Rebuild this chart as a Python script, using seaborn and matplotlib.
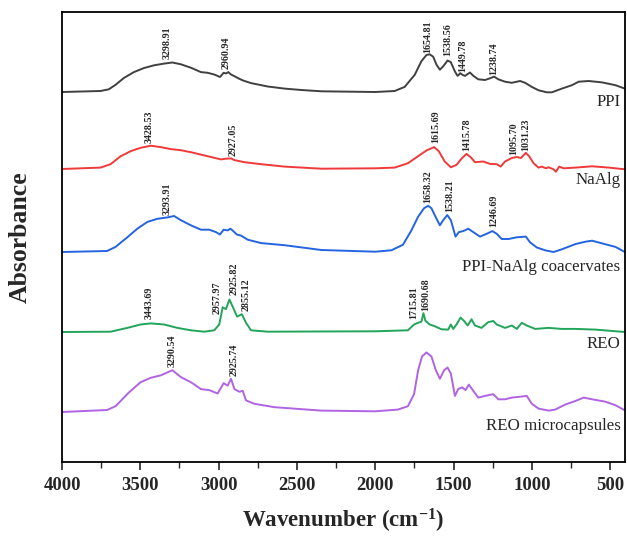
import matplotlib
matplotlib.use("Agg")
import matplotlib.pyplot as plt
import numpy as np
import pandas as pd
import seaborn as sns
from matplotlib.ticker import MultipleLocator

# FTIR spectra (wavenumber, height above each trace's baseline)
ppi_wn = [4000, 3754, 3701, 3658, 3605, 3541, 3476, 3412, 3348, 3295, 3241, 3177, 3113, 3070,
          3028, 2991, 2968, 2953, 2938, 2921, 2899, 2874, 2846, 2793, 2686, 2579, 2472, 2344,
          2000, 1876, 1812, 1748, 1705, 1673, 1652, 1630, 1609, 1587, 1566, 1538, 1517, 1491,
          1474, 1457, 1442, 1427, 1395, 1373, 1342, 1299, 1267, 1241, 1214, 1171, 1128, 1075,
          1043, 1000, 957, 904, 872, 808, 744, 701, 637, 551, 466, 406]
ppi_abs = [0, 1, 2.7, 7.2, 14, 19.9, 24, 26.7, 28.4, 29.5, 27.7, 24.3, 19.9, 19.2,
           17.5, 15, 19.2, 18.5, 19.9, 17.5, 15.8, 13.7, 11.6, 8.9, 5.5, 3.4, 2, 0.7,
           0, 1, 5.1, 17.1, 30.8, 37, 37.7, 35.3, 27.4, 22.3, 25.7, 31.5, 29.8, 20.5,
           16.1, 18.8, 17.1, 16.1, 19.5, 16.1, 12.7, 12, 13.7, 15.4, 12.7, 10.3, 9.2, 11,
           9.2, 5.1, 1.7, -0.3, -0.3, 3.4, 6.8, 10.3, 11, 9.6, 6.8, 3.4]

naalg_wn = [4000, 3754, 3690, 3626, 3562, 3498, 3434, 3370, 3305, 3241, 3177, 3113, 3049, 2985,
            2953, 2921, 2899, 2835, 2728, 2579, 2344, 2000, 1876, 1791, 1727, 1673, 1624, 1594,
            1556, 1517, 1481, 1445, 1417, 1389, 1363, 1310, 1267, 1224, 1199, 1171, 1128, 1096,
            1070, 1038, 1017, 989, 957, 936, 910, 893, 861, 846, 825, 797, 722, 615, 508, 406]
naalg_abs = [0, 1.4, 4.8, 12.7, 17.8, 21.2, 23.3, 21.9, 19.9, 18.8, 16.8, 14.4, 12, 9.6,
             10.3, 10.6, 8.9, 6.8, 4.8, 2.4, 0.3, 0.7, 1.4, 5.8, 12.7, 18.5, 21.9, 17.8,
             7.5, 1.7, 4.1, 11, 15.1, 11.6, 6.8, 7.5, 5.1, 4.8, 2.4, 7.5, 11, 12,
             11, 16.1, 12.7, 5.8, 1.4, 2.4, 0.7, 1.7, -0.3, -2.7, 2.4, 0.7, 1.4, 2.7, 1.4, -0.3]

coac_wn = [4000, 3712, 3658, 3583, 3519, 3455, 3391, 3327, 3284, 3241, 3177, 3113, 3060, 3017,
           2991, 2968, 2942, 2925, 2906, 2884, 2857, 2814, 2728, 2579, 2344, 2000, 1897, 1823,
           1769, 1726, 1688, 1662, 1641, 1615, 1587, 1566, 1540, 1517, 1487, 1466, 1438, 1406,
           1374, 1331, 1288, 1252, 1224, 1192, 1149, 1096, 1038, 1011, 968, 915, 861, 808,
           722, 658, 615, 551, 466, 406]
coac_abs = [0, 1, 5.1, 14.7, 23.3, 30.1, 33.2, 34.6, 36, 31.8, 26.7, 22.3, 22.3, 19.9,
            17.5, 22.3, 21.6, 23.3, 20.9, 17.5, 16.4, 12.3, 8.9, 6.8, 2, 0.3, 1.7, 7.2,
            21.6, 35.3, 43.8, 46.2, 43.8, 35.3, 26.7, 31.8, 37, 31.8, 15.4, 19.9, 20.9, 23.3,
            19.9, 15.4, 18.2, 20.9, 18.2, 13, 13, 14.7, 15.4, 9.6, 4.5, 1.7, 0, 2.7,
            7.9, 10.3, 11.3, 8.6, 5.1, 0]

reo_wn = [4000, 3690, 3583, 3498, 3434, 3348, 3263, 3177, 3092, 3028, 2996, 2974, 2953, 2931,
          2910, 2882, 2852, 2825, 2793, 2686, 2393, 2000, 1791, 1752, 1726, 1705, 1692, 1679,
          1652, 1620, 1577, 1534, 1517, 1502, 1481, 1455, 1432, 1410, 1385, 1363, 1321, 1278,
          1246, 1224, 1171, 1128, 1096, 1064, 1032, 979, 893, 808, 722, 594, 406]
reo_abs = [0, 0.3, 4.1, 7.5, 8.6, 7.5, 4.1, 1.7, 0.3, 1.7, 7.5, 24.7, 22.9, 32.5,
           25.3, 15.4, 17.8, 9.2, 1.7, 0.3, 0.5, 0.7, 1.7, 7.5, 9.2, 10.3, 18.8, 11,
           7.5, 5.8, 2.7, 2.4, 7.5, 3.1, 7.5, 14.4, 11, 6.5, 12.7, 6.5, 4.1, 9.9,
           11, 7.5, 4.1, 6.5, 3.1, 9.2, 6.5, 3.1, 4.1, 3.1, 3.1, 2.4, 0]

micro_wn = [4000, 3712, 3658, 3573, 3498, 3434, 3370, 3295, 3241, 3177, 3113, 3060, 3006, 2968,
            2942, 2921, 2899, 2867, 2846, 2825, 2771, 2643, 2344, 2000, 1855, 1791, 1752, 1726,
            1701, 1673, 1641, 1613, 1587, 1560, 1538, 1517, 1491, 1470, 1445, 1423, 1402, 1374,
            1342, 1299, 1246, 1214, 1171, 1128, 1086, 1032, 1000, 957, 893, 851, 786, 722,
            669, 615, 530, 466, 406]
micro_abs = [0, 2, 5.8, 19.5, 29.8, 34.2, 36.6, 41.8, 34.9, 29.8, 22.9, 21.9, 18.5, 28.8,
             26.4, 33.2, 22.9, 20.2, 21.2, 11.6, 8.2, 4.8, 1.4, 0.7, 2.4, 5.8, 17.8, 41.8,
             55.5, 59.6, 55.5, 41.8, 33.2, 41.8, 44.5, 38.4, 16.1, 22.9, 24.7, 21.9, 27.4, 21.2,
             14.4, 16.1, 17.8, 12.7, 12.7, 14.4, 15.1, 16.1, 8.2, 3.4, 1.4, 2.4, 7.5, 11,
             14.4, 12.7, 10.3, 6.8, 1.7]

samples = ["PPI", "NaAlg", "PPI-NaAlg coacervates", "REO", "REO microcapsules"]
colors = ["#404040", "#f03a3a", "#2464e0", "#22a45a", "#b064e4"]
offsets = [370, 293, 210, 130, 50]
name_dy = [-10, -11.3, -15, -12, -13.7]

# peak labels: (text, x position, height of text bottom above baseline)
peak_labels = [
    [("3298.91", 3327, 32.9), ("2960.94", 2953, 22.6), ("1654.81", 1662, 39.4),
     ("1538.56", 1538, 36), ("1449.78", 1444, 20.5), ("1238.74", 1241, 17.1)],
    [("3428.53", 3444, 26.4), ("2927.05", 2906, 12.7), ("1615.69", 1615, 26.4),
     ("1415.78", 1417, 17.8), ("1095.70", 1117, 14.4), ("1031.23", 1038, 17.8)],
    [("3293.91", 3327, 37), ("1658.32", 1662, 49), ("1538.21", 1523, 40.4),
     ("1246.69", 1241, 25)],
    [("3443.69", 3444, 12.7), ("2957.97", 3011, 17.8), ("2925.82", 2899, 36.6),
     ("2855.12", 2825, 21.2), ("1715.81", 1752, 12.7), ("1690.68", 1679, 21.2)],
    [("3290.54", 3295, 45.2), ("2925.74", 2899, 35.6)],
]

spectra = [(ppi_wn, ppi_abs), (naalg_wn, naalg_abs), (coac_wn, coac_abs),
           (reo_wn, reo_abs), (micro_wn, micro_abs)]

sns.set_style("ticks")
plt.rcParams["font.family"] = ["Liberation Serif", "DejaVu Serif"]
plt.rcParams["mathtext.fontset"] = "custom"
plt.rcParams["mathtext.rm"] = "Liberation Serif:bold"
plt.rcParams["mathtext.bf"] = "Liberation Serif:bold"
plt.rcParams["mathtext.default"] = "bf"

fig = plt.figure(figsize=(6.27, 5.38), dpi=100)
ax = fig.add_axes([62 / 627, 1 - 462 / 538, 563 / 627, 450 / 538])

for name, (wn, ab), col, off, dy, peaks in zip(samples, spectra, colors, offsets, name_dy, peak_labels):
    df = pd.DataFrame({"wavenumber": wn, "absorbance": np.array(ab) + off})
    sns.lineplot(data=df, x="wavenumber", y="absorbance", color=col, lw=1.4, ax=ax, sort=False)
    for txt, x, h in peaks:
        ax.text(x, off + h, txt, rotation=90, ha="center", va="bottom",
                fontsize=7.2, fontweight="bold")
    ax.text(434, off + dy, name, ha="right", va="center", fontsize=12.2)

ax.set_xlim(4000, 405)
ax.set_ylim(0, 450)
ax.set_yticks([])
ax.xaxis.set_major_locator(MultipleLocator(500))
ax.xaxis.set_minor_locator(MultipleLocator(250))
ax.tick_params(axis="x", which="major", direction="out", length=6, width=1.2,
               labelsize=13.5, pad=5)
ax.tick_params(axis="x", which="minor", direction="out", length=4, width=1.0)
for lbl in ax.get_xticklabels():
    lbl.set_fontweight("bold")
for sp in ax.spines.values():
    sp.set_visible(True)
    sp.set_linewidth(1.3)
    sp.set_color("black")

ax.set_xlabel(r"Wavenumber (cm$^{-1}$)", fontsize=16.5, fontweight="bold", labelpad=9)
ax.set_ylabel("Absorbance", fontsize=18.5, fontweight="bold", labelpad=22)

fig.savefig("out.png", dpi=100)
